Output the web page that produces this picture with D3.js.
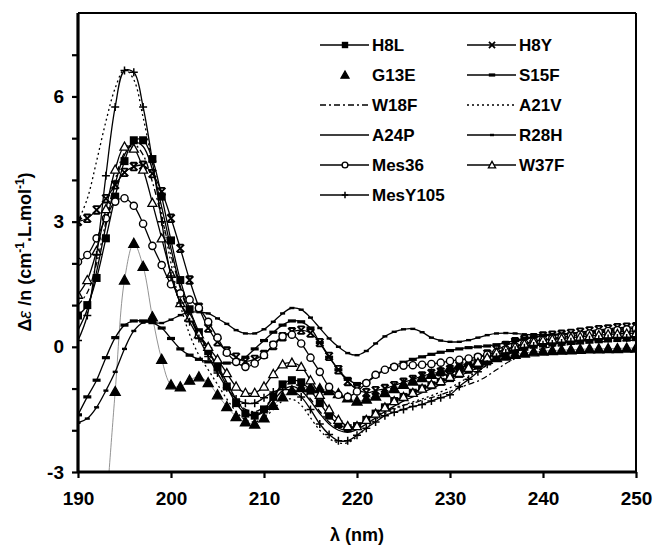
<!DOCTYPE html>
<html><head><meta charset="utf-8">
<script src="https://cdn.jsdelivr.net/npm/d3@7"></script>
<style>
body{margin:0;background:#fff}
text{font-family:Arial,"Liberation Sans",sans-serif;font-weight:bold;fill:#000}
</style>
</head><body><div id="chart"></div>
<script>
// wavelength grid, 1 nm steps
const wavelengths = d3.range(190, 251);

// values, 190..250 nm
const H8L = [0.75,1.0,1.65,2.6,3.6,4.45,4.95,4.95,4.5,3.6,2.55,1.6,0.9,0.35,-0.1,-0.5,-0.95,-1.35,-1.6,-1.65,-1.5,-1.2,-0.9,-0.8,-0.85,-1.05,-1.35,-1.65,-1.85,-1.95,-1.9,-1.75,-1.6,-1.45,-1.3,-1.2,-1.1,-1.0,-0.92,-0.84,-0.75,-0.65,-0.55,-0.45,-0.35,-0.25,-0.15,-0.07,0.0,0.05,0.08,0.1,0.12,0.14,0.15,0.17,0.18,0.2,0.21,0.22,0.23];
const H8Y = [3.0,3.08,3.28,3.55,3.88,4.18,4.32,4.35,4.15,3.72,3.08,2.36,1.6,0.95,0.45,0.12,-0.1,-0.25,-0.35,-0.3,-0.18,0.03,0.24,0.36,0.4,0.33,0.1,-0.23,-0.55,-0.83,-1.02,-1.1,-1.05,-1.0,-0.93,-0.85,-0.78,-0.7,-0.64,-0.6,-0.54,-0.46,-0.37,-0.27,-0.17,-0.07,0.03,0.12,0.18,0.22,0.26,0.28,0.3,0.32,0.35,0.38,0.41,0.43,0.46,0.47,0.48];
const G13E = [null,null,null,-4.0,-1.07,1.6,2.48,1.93,0.72,-0.3,-0.91,-0.96,-0.8,-0.72,-0.86,-1.15,-1.43,-1.67,-1.8,-1.85,-1.7,-1.4,-1.2,-1.05,-0.98,-0.98,-1.0,-1.05,-1.12,-1.22,-1.3,-1.25,-1.18,-1.1,-1.0,-0.9,-0.82,-0.74,-0.66,-0.58,-0.5,-0.44,-0.38,-0.34,-0.3,-0.26,-0.22,-0.18,-0.15,-0.12,-0.1,-0.09,-0.08,-0.07,-0.06,-0.05,-0.05,-0.04,-0.04,-0.03,-0.03];
const S15F = [-1.63,-1.2,-0.8,-0.26,0.22,0.52,0.62,0.62,0.58,0.45,0.2,-0.05,-0.2,-0.3,-0.36,-0.39,-0.39,-0.36,-0.25,-0.05,0.15,0.35,0.52,0.62,0.6,0.45,0.1,-0.25,-0.55,-0.78,-0.88,-0.85,-0.7,-0.55,-0.45,-0.37,-0.3,-0.24,-0.18,-0.13,-0.09,-0.05,-0.02,0.0,0.02,0.05,0.1,0.15,0.2,0.24,0.27,0.28,0.3,0.31,0.32,0.33,0.34,0.35,0.36,0.37,0.38];
const W18F = [1.0,1.3,2.0,3.0,4.0,4.65,4.85,4.6,3.95,3.1,2.2,1.4,0.75,0.25,-0.15,-0.5,-0.9,-1.25,-1.5,-1.55,-1.45,-1.2,-0.95,-0.88,-0.98,-1.25,-1.55,-1.8,-1.95,-2.0,-1.92,-1.78,-1.65,-1.55,-1.47,-1.4,-1.35,-1.28,-1.22,-1.15,-1.07,-0.98,-0.9,-0.82,-0.7,-0.55,-0.4,-0.28,-0.18,-0.1,-0.04,0.0,0.03,0.06,0.08,0.1,0.12,0.13,0.14,0.15,0.16];
const A21V = [3.0,3.55,4.45,5.4,6.2,6.65,6.4,5.5,4.4,3.2,2.0,1.0,0.3,-0.2,-0.55,-0.9,-1.25,-1.55,-1.75,-1.8,-1.7,-1.5,-1.3,-1.25,-1.4,-1.7,-2.0,-2.2,-2.3,-2.3,-2.15,-1.95,-1.75,-1.6,-1.5,-1.4,-1.32,-1.25,-1.17,-1.08,-0.98,-0.86,-0.72,-0.58,-0.44,-0.3,-0.2,-0.12,-0.06,-0.01,0.03,0.06,0.08,0.1,0.12,0.14,0.15,0.17,0.18,0.19,0.2];
const A24P = [0.4,0.9,1.8,2.9,3.9,4.6,4.9,4.8,4.25,3.35,2.35,1.45,0.8,0.3,-0.1,-0.45,-0.85,-1.25,-1.55,-1.65,-1.55,-1.3,-1.05,-0.95,-1.05,-1.3,-1.6,-1.85,-2.0,-2.05,-1.98,-1.85,-1.7,-1.55,-1.42,-1.3,-1.2,-1.1,-1.0,-0.9,-0.8,-0.7,-0.6,-0.5,-0.38,-0.27,-0.17,-0.09,-0.02,0.03,0.07,0.1,0.12,0.14,0.16,0.18,0.2,0.21,0.22,0.23,0.24];
const R28H = [-1.82,-1.72,-1.45,-1.05,-0.6,-0.05,0.38,0.58,0.58,0.57,0.65,0.76,0.83,0.83,0.8,0.68,0.55,0.4,0.32,0.32,0.42,0.6,0.8,0.93,0.89,0.7,0.45,0.2,0.0,-0.15,-0.2,-0.1,0.08,0.25,0.36,0.42,0.43,0.35,0.22,0.15,0.12,0.12,0.16,0.22,0.28,0.32,0.33,0.32,0.3,0.29,0.29,0.3,0.31,0.32,0.34,0.36,0.38,0.4,0.42,0.44,0.45];
const Mes36 = [2.04,2.2,2.6,3.08,3.48,3.56,3.38,2.95,2.42,1.96,1.5,1.28,1.13,0.93,0.6,0.22,-0.14,-0.36,-0.48,-0.4,-0.2,0.05,0.25,0.29,0.08,-0.26,-0.6,-0.96,-1.15,-1.2,-1.07,-0.87,-0.67,-0.55,-0.48,-0.45,-0.44,-0.43,-0.41,-0.38,-0.34,-0.31,-0.28,-0.24,-0.19,-0.13,-0.06,0.01,0.08,0.13,0.17,0.2,0.23,0.26,0.29,0.32,0.35,0.38,0.4,0.42,0.44];
const W37F = [1.25,1.6,2.3,3.3,4.25,4.8,4.75,4.25,3.45,2.6,1.75,1.05,0.7,0.3,0.0,-0.3,-0.63,-0.95,-1.1,-1.1,-0.95,-0.65,-0.42,-0.38,-0.48,-0.8,-1.15,-1.5,-1.75,-1.9,-1.9,-1.75,-1.6,-1.45,-1.3,-1.2,-1.1,-1.0,-0.9,-0.82,-0.72,-0.62,-0.5,-0.38,-0.26,-0.14,-0.07,0.0,0.07,0.12,0.16,0.18,0.2,0.22,0.24,0.26,0.28,0.3,0.31,0.32,0.33];
const MesY105 = [0.15,0.75,2.2,4.1,5.75,6.62,6.58,5.75,4.45,3.0,1.7,1.05,0.6,0.2,-0.23,-0.63,-0.98,-1.25,-1.35,-1.35,-1.22,-1.08,-1.02,-1.05,-1.2,-1.5,-1.85,-2.1,-2.25,-2.25,-2.12,-1.95,-1.8,-1.65,-1.57,-1.5,-1.43,-1.38,-1.3,-1.22,-1.15,-0.95,-0.78,-0.6,-0.42,-0.25,-0.15,-0.08,-0.02,0.02,0.05,0.07,0.09,0.12,0.15,0.17,0.18,0.2,0.21,0.21,0.22];

const xTicks = [190, 200, 210, 220, 230, 240, 250];
const yTicks = [-3, -2, -1, 0, 1, 2, 3, 4, 5, 6, 7];
const yLabelled = [-3, 0, 3, 6];

const series = [
  {name: "H8L", values: H8L, marker: "square", dash: null},
  {name: "H8Y", values: H8Y, marker: "xbar", dash: null},
  {name: "G13E", values: G13E, marker: "tri", dash: null, thin: true},
  {name: "S15F", values: S15F, marker: "bar", dash: null},
  {name: "W18F", values: W18F, marker: null, dash: "6,3,2,3"},
  {name: "A21V", values: A21V, marker: null, dash: "2,3"},
  {name: "A24P", values: A24P, marker: null, dash: null},
  {name: "R28H", values: R28H, marker: "tick", dash: null},
  {name: "Mes36", values: Mes36, marker: "circle", dash: null},
  {name: "W37F", values: W37F, marker: "otri", dash: null},
  {name: "MesY105", values: MesY105, marker: "plus", dash: null}
];

const width = 654, height = 546;
const svg = d3.select("#chart").append("svg").attr("width", width).attr("height", height);

const x = d3.scaleLinear().domain([190, 250]).range([78, 636]);
const y = d3.scaleLinear().domain([-3, 8]).range([472, 13]);

svg.append("clipPath").attr("id", "plot")
  .append("rect").attr("x", 78).attr("y", 13).attr("width", 558).attr("height", 459);

function drawMarker(g, type, cx, cy, s, legend) {
  const k = s || 1;
  if (type === "square") {
    g.append("rect").attr("x", cx - 4 * k).attr("y", cy - 4 * k).attr("width", 8 * k).attr("height", 8 * k).attr("fill", "#000");
  } else if (type === "tri" || type === "otri") {
    const r = type === "tri" ? 5 * k : 4.5 * k;
    g.append("path")
      .attr("d", `M${cx},${cy - r}L${cx + r},${cy + r * 0.8}L${cx - r},${cy + r * 0.8}Z`)
      .attr("fill", type === "tri" ? "#000" : "#fff").attr("stroke", "#000").attr("stroke-width", 1.3);
  } else if (type === "circle") {
    g.append("circle").attr("cx", cx).attr("cy", cy).attr("r", 3.6 * k)
      .attr("fill", "#fff").attr("stroke", "#000").attr("stroke-width", 1.4);
  } else if (type === "xbar") {
    const r = 3.8 * k;
    let d = `M${cx - r},${cy - r}L${cx + r},${cy + r}M${cx + r},${cy - r}L${cx - r},${cy + r}`;
    if (!legend) d += `M${cx - r * 0.8},${cy - r}H${cx + r * 0.8}M${cx - r * 0.8},${cy + r}H${cx + r * 0.8}`;
    g.append("path").attr("d", d)
      .attr("stroke", "#000").attr("stroke-width", 1.8).attr("fill", "none");
  } else if (type === "plus") {
    const r = 4 * k;
    g.append("path")
      .attr("d", `M${cx - r},${cy}H${cx + r}M${cx},${cy - r}V${cy + r}`)
      .attr("stroke", "#000").attr("stroke-width", 1.5).attr("fill", "none");
  } else if (type === "bar") {
    g.append("rect").attr("x", cx - 4 * k).attr("y", cy - 1.6).attr("width", 8 * k).attr("height", 3.2).attr("fill", "#000");
  } else if (type === "tick") {
    g.append("rect").attr("x", cx - 2.5 * k).attr("y", cy - 1.2).attr("width", 5 * k).attr("height", 2.4).attr("fill", "#000");
  }
}

const line = d3.line()
  .defined(d => d.v !== null)
  .x(d => x(d.nm))
  .y(d => y(d.v))
  .curve(d3.curveCatmullRom.alpha(0.5));

const plot = svg.append("g").attr("clip-path", "url(#plot)");

series.forEach(s => {
  const pts = wavelengths.map((nm, i) => ({nm: nm, v: s.values[i]}));
  plot.append("path")
    .datum(pts)
    .attr("fill", "none")
    .attr("stroke", s.thin ? "#777" : "#000")
    .attr("stroke-width", s.thin ? 0.8 : 1.3)
    .attr("stroke-dasharray", s.dash)
    .attr("d", line);
  if (s.marker) {
    const mg = plot.append("g");
    pts.filter(d => d.v !== null).forEach(d => drawMarker(mg, s.marker, x(d.nm), y(d.v)));
  }
});

// frame
svg.append("line").attr("x1", 78).attr("x2", 636).attr("y1", 13).attr("y2", 13).attr("stroke", "#000").attr("stroke-width", 2);
svg.append("line").attr("x1", 636).attr("x2", 636).attr("y1", 13).attr("y2", 472).attr("stroke", "#000").attr("stroke-width", 2);

// axes
const xAxis = svg.append("g").attr("transform", "translate(0,472)")
  .call(d3.axisBottom(x).tickValues(xTicks).tickSize(6).tickPadding(14).tickFormat(d => String(d)));
const yAxis = svg.append("g").attr("transform", "translate(78,0)")
  .call(d3.axisLeft(y).tickValues(yTicks).tickSize(6).tickPadding(8)
    .tickFormat(d => yLabelled.includes(d) ? String(d) : ""));
[xAxis, yAxis].forEach(a => {
  a.select(".domain").attr("stroke-width", 3.2);
  a.selectAll(".tick line").attr("stroke-width", 2.2);
  a.selectAll("text").style("font-size", "19px").style("font-weight", "bold")
    .style("font-family", "Arial, 'Liberation Sans', sans-serif");
});
xAxis.select(".domain").attr("d", "M78,0H636");
yAxis.select(".domain").attr("d", "M0,13V472");

// axis titles
svg.append("text").attr("x", 357).attr("y", 541).attr("text-anchor", "middle")
  .style("font-size", "18px").text("λ (nm)");

const yt = svg.append("text").attr("transform", "translate(31,252) rotate(-90)")
  .attr("text-anchor", "middle").style("font-size", "18px");
yt.append("tspan").text("Δ");
yt.append("tspan").style("font-style", "italic").style("font-weight", "normal").text("ε");
yt.append("tspan").text(" /n (cm");
yt.append("tspan").attr("dy", -7).style("font-size", "12px").text("-1");
yt.append("tspan").attr("dy", 7).text(".L.mol");
yt.append("tspan").attr("dy", -7).style("font-size", "12px").text("-1");
yt.append("tspan").attr("dy", 7).text(")");

// legend
const legend = svg.append("g");
series.forEach((s, i) => {
  const col = i % 2, row = Math.floor(i / 2);
  const x0 = col === 0 ? 320 : 467;
  const cy = 45 + row * 30;
  const g = legend.append("g");
  if (s.marker !== "tri") {
    g.append("line").attr("x1", x0).attr("x2", x0 + 49).attr("y1", cy).attr("y2", cy)
      .attr("stroke", "#000").attr("stroke-width", 1.3).attr("stroke-dasharray", s.dash);
  }
  if (s.marker) drawMarker(g, s.marker, x0 + 25, cy, 0.8, true);
  g.append("text").attr("x", x0 + 52).attr("y", cy + 6).style("font-size", "17px").text(s.name);
});
</script>
</body></html>
